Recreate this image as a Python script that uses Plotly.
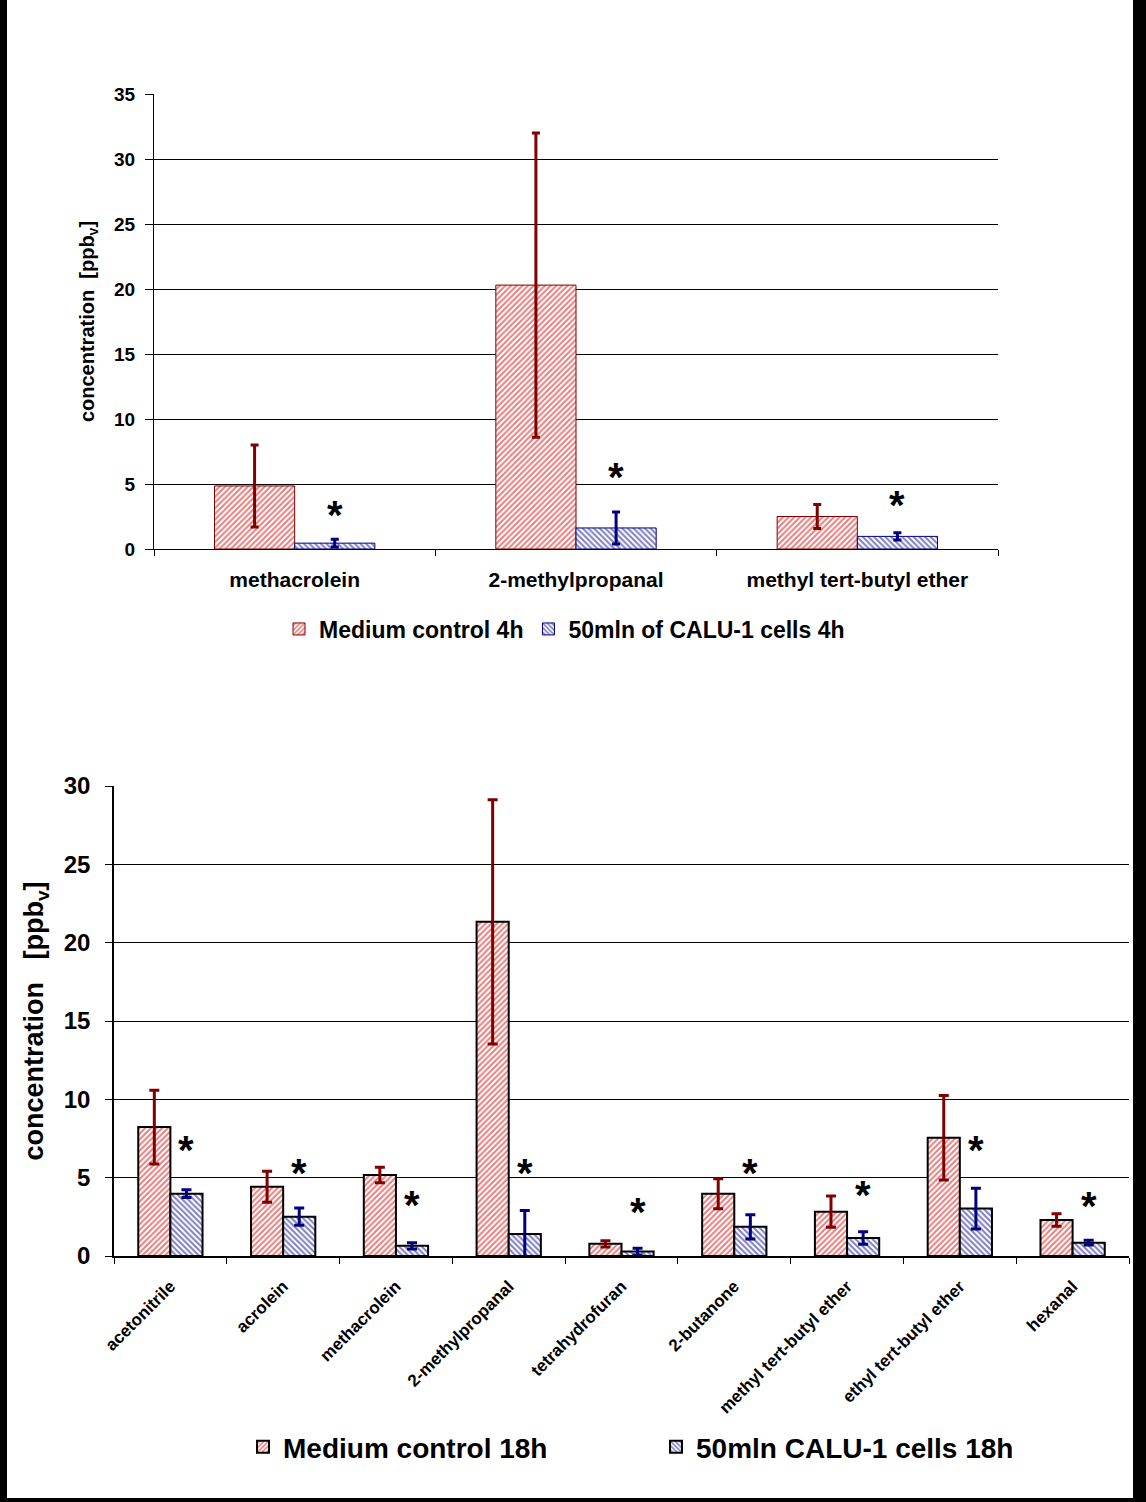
import plotly.graph_objects as go

W, H = 1146, 1502

# 4h experiment (upper chart)
cats_4h = ["methacrolein", "2-methylpropanal", "methyl tert-butyl ether"]
medium_4h = [4.85, 20.3, 2.5]
medium_4h_err = [3.15, 11.7, 0.93]
calu_4h = [0.45, 1.62, 0.97]
calu_4h_err = [0.3, 1.23, 0.28]
stars_4h = [3.0, 5.9, 3.8]

# 18h experiment (lower chart)
cats_18h = ["acetonitrile", "acrolein", "methacrolein", "2-methylpropanal",
            "tetrahydrofuran", "2-butanone", "methyl tert-butyl ether",
            "ethyl tert-butyl ether", "hexanal"]
medium_18h = [8.23, 4.42, 5.17, 21.33, 0.78, 3.97, 2.83, 7.55, 2.3]
medium_18h_err = [2.35, 0.99, 0.5, 7.8, 0.2, 0.96, 1.0, 2.7, 0.4]
calu_18h = [3.98, 2.51, 0.65, 1.4, 0.28, 1.86, 1.15, 3.03, 0.85]
calu_18h_err = [0.25, 0.55, 0.2, 1.5, 0.22, 0.77, 0.4, 1.3, 0.15]
stars_18h = [7.1, 5.6, 3.6, 5.6, 3.1, 5.6, 4.2, 7.1, 3.5]

FONT = "Liberation Sans, Arial, sans-serif"
RED = "#d00000"
RED_DARK = "#800000"
BLUE = "#000088"
BLUE_DARK = "#000080"


def bar(name, x, y, err, pat, fg, err_col, xa, ya, leg, line_col, line_w, cap):
    return go.Bar(
        name=name, x=x, y=y, xaxis=xa, yaxis=ya, legend=leg,
        marker=dict(color="white", line=dict(color=line_col, width=line_w),
                    pattern=dict(shape=pat, fgcolor=fg, bgcolor="white",
                                 size=4, solidity=0.5, fillmode="overlay")),
        error_y=dict(type="data", array=err, color=err_col, thickness=3,
                     width=cap),
    )


fig = go.Figure()
fig.add_trace(bar("Medium control 4h", cats_4h, medium_4h, medium_4h_err,
                  "/", RED, RED_DARK, "x", "y", "legend", RED_DARK, 1, 4))
fig.add_trace(bar("50mln of CALU-1 cells 4h", cats_4h, calu_4h, calu_4h_err,
                  "\\", BLUE, BLUE_DARK, "x", "y", "legend", BLUE_DARK, 1, 4))
fig.add_trace(bar("Medium control 18h", cats_18h, medium_18h, medium_18h_err,
                  "/", RED, RED_DARK, "x2", "y2", "legend2", "black", 2, 5))
fig.add_trace(bar("50mln CALU-1 cells 18h", cats_18h, calu_18h, calu_18h_err,
                  "\\", BLUE, BLUE_DARK, "x2", "y2", "legend2", "black", 2, 5))

annotations = []
for c, s in zip(cats_4h, stars_4h):
    annotations.append(dict(x=c, y=s, xref="x", yref="y", text="*",
                            showarrow=False, xshift=40, yshift=-5,
                            font=dict(size=40, color="black")))
for c, s in zip(cats_18h, stars_18h):
    annotations.append(dict(x=c, y=s, xref="x2", yref="y2", text="*",
                            showarrow=False, xshift=16, yshift=-5,
                            font=dict(size=40, color="black")))

# black frame on the left, right and bottom of the page
shapes = [
    dict(type="rect", xref="paper", yref="paper", x0=0, x1=7 / W, y0=0, y1=1,
         fillcolor="black", line_width=0),
    dict(type="rect", xref="paper", yref="paper", x0=1133 / W, x1=1, y0=0, y1=1,
         fillcolor="black", line_width=0),
    dict(type="rect", xref="paper", yref="paper", x0=0, x1=1, y0=0, y1=4 / H,
         fillcolor="black", line_width=0),
]

fig.update_layout(
    template="none",
    width=W, height=H,
    margin=dict(l=0, r=0, t=0, b=0),
    paper_bgcolor="white", plot_bgcolor="white",
    font=dict(family=FONT, color="black", weight="bold"),
    barmode="group", bargap=0.43, bargroupgap=0,
    annotations=annotations, shapes=shapes,
    xaxis=dict(domain=[154 / W, 998 / W], anchor="y", type="category",
               showline=True, linecolor="black", linewidth=1, showgrid=False,
               ticks="outside", tickson="boundaries", ticklen=6,
               tickcolor="black", ticklabelstandoff=12,
               tickfont=dict(size=21, family=FONT, weight="bold")),
    yaxis=dict(domain=[1 - 549 / H, 1 - 94 / H], anchor="x", range=[0, 35],
               dtick=5, showgrid=True, gridcolor="black", gridwidth=1,
               zeroline=False, showline=True, linecolor="black", linewidth=1,
               ticks="outside", ticklen=8, tickcolor="black",
               ticklabelstandoff=6,
               tickfont=dict(size=19, family=FONT, weight="bold"),
               title=dict(text="concentration  [ppb<sub>v</sub>]", standoff=14,
                          font=dict(size=20, family=FONT, weight="bold"))),
    xaxis2=dict(domain=[114 / W, 1129 / W], anchor="y2", type="category",
                showline=True, linecolor="black", linewidth=1.5, showgrid=False,
                ticks="outside", tickson="boundaries", ticklen=6,
                tickcolor="black", tickangle=-45, ticklabelstandoff=12,
                tickfont=dict(size=17, family=FONT, weight="bold")),
    yaxis2=dict(domain=[1 - 1256 / H, 1 - 786 / H], anchor="x2", range=[0, 30],
                dtick=5, showgrid=True, gridcolor="black", gridwidth=1,
                zeroline=False, showline=True, linecolor="black", linewidth=1.5,
                ticks="outside", ticklen=7, tickcolor="black",
                ticklabelstandoff=10,
                tickfont=dict(size=24, family=FONT, weight="bold"),
                title=dict(text="concentration   [ppb<sub>v</sub>]", standoff=12,
                           font=dict(size=27, family=FONT, weight="bold"))),
    legend=dict(orientation="h", x=279 / W, y=1 - 629 / H, xanchor="left",
                yanchor="middle", bgcolor="rgba(0,0,0,0)", itemwidth=30,
                traceorder="normal",
                font=dict(size=23, family=FONT, weight="bold")),
    legend2=dict(orientation="h", x=243 / W, y=1 - 1447 / H, xanchor="left",
                 yanchor="middle", bgcolor="rgba(0,0,0,0)", itemwidth=30,
                 entrywidth=368, traceorder="normal",
                 font=dict(size=28, family=FONT, weight="bold")),
)

fig.write_html("out.html", config={"displayModeBar": False},
               post_script="document.body.style.margin='0px';")
